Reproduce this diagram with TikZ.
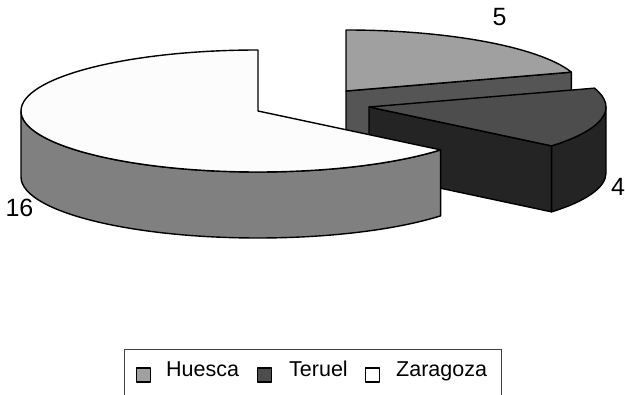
\documentclass[tikz,border=0pt]{standalone}
\usepackage{fontspec}
\setmainfont{Liberation Sans}
\usetikzlibrary{calc}
\definecolor{ztop}{HTML}{FCFCFC}
\definecolor{zside}{HTML}{808080}
\definecolor{htop}{HTML}{A0A0A0}
\definecolor{hside}{HTML}{555555}
\definecolor{ttop}{HTML}{4D4D4D}
\definecolor{tside}{HTML}{242424}
\tikzset{
  edge/.style={draw=black, line width=1.4pt, line join=round},
  lbl/.style={font=\fontsize{25}{28}\selectfont, inner sep=0pt},
  legtxt/.style={font=\fontsize{21.5}{24}\selectfont, inner sep=0pt, anchor=base west},
  legsq/.style={edge, minimum size=14pt, inner sep=0pt},
  ell/.style={x radius=237pt, y radius=61pt}
}
\begin{document}
\begin{tikzpicture}[x=1pt,y=1pt]
\useasboundingbox (0,0) rectangle (625,-395);
\clip (0,0) rectangle (625,-395);
% centres
\coordinate (H) at (346,-91);
\coordinate (T) at (369,-107);
\coordinate (Z) at (258,-111);
% Huesca
\coordinate (H18) at ($(H)+(18:237pt and 61pt)$);
\coordinate (H90) at ($(H)+(90:237pt and 61pt)$);
\path[edge, fill=hside] (H) -- (H18) -- ++(0,-66) -- ($(H)+(0,-66)$) -- cycle;
\path[edge, fill=htop] (H) -- (H18) arc[start angle=18, end angle=90, ell] -- cycle;
% Teruel
\coordinate (Tm) at ($(T)+(-39.6:237pt and 61pt)$);
\coordinate (T0) at ($(T)+(0:237pt and 61pt)$);
\path[edge, fill=tside] (T) -- (Tm) -- ++(0,-66) -- ($(T)+(0,-66)$) -- cycle;
\path[edge, fill=tside] (Tm) arc[start angle=-39.6, end angle=0, ell] -- ++(0,-66) arc[start angle=0, end angle=-39.6, ell] -- cycle;
\path[edge, fill=ttop] (T) -- (Tm) arc[start angle=-39.6, end angle=18, ell] -- cycle;
% Zaragoza
\coordinate (Z180) at ($(Z)+(180:237pt and 61pt)$);
\coordinate (Z90) at ($(Z)+(90:237pt and 61pt)$);
\path[edge, fill=zside] (Z180) arc[start angle=180, end angle=320.4, ell] -- ++(0,-66) arc[start angle=320.4, end angle=180, ell] -- cycle;
\path[edge, fill=ztop] (Z) -- (Z90) arc[start angle=90, end angle=320.4, ell] -- cycle;
% labels
\node[lbl] (l5) at (499.5,-17) {5};
\node[lbl] (l4) at (618,-186.5) {4};
\node[lbl] (l16) at (19.5,-207.5) {16};
% legend
\draw[black!75, line width=1pt] (124.5,-350) rectangle (501.5,-420);
\node[legsq, fill=htop] (sqh) at (143.5,-375) {};
\node[legtxt] (th) at (166,-377) {Huesca};
\node[legsq, fill=ttop] (sqt) at (264.5,-375) {};
\node[legtxt] (tt) at (289,-377) {Teruel};
\node[legsq, fill=white] (sqz) at (372.5,-375) {};
\node[legtxt] (tz) at (396,-377) {Zaragoza};
\end{tikzpicture}
\end{document}
